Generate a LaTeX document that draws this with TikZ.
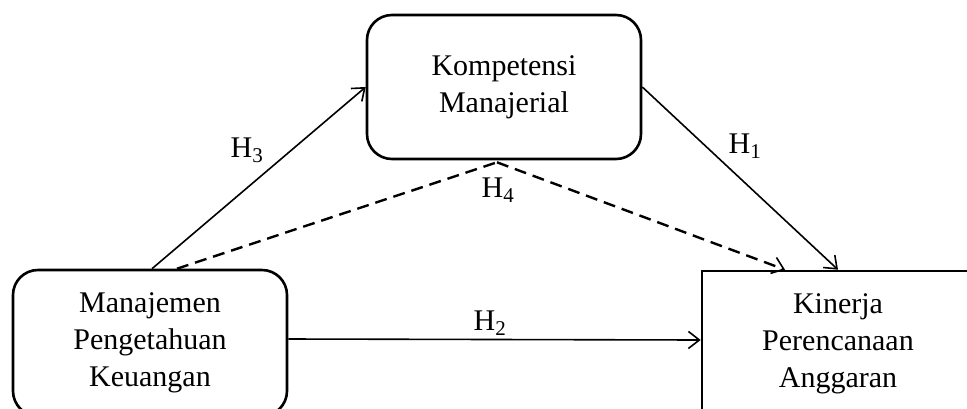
\documentclass[tikz,border=0pt]{standalone}
\usepackage{fontspec}
\setmainfont{Liberation Serif}
\usetikzlibrary{arrows.meta}
\begin{document}
\begin{tikzpicture}[x=1pt,y=-1pt,
  box/.style={draw,line width=2.6pt,align=center,font=\fontsize{30}{37}\selectfont,inner sep=0pt},
  conn/.style={line width=1.6pt,-{Straight Barb[length=11pt,width=17pt,line width=1.6pt]}},
  dconn/.style={line width=2.4pt,dash pattern=on 12pt off 7pt},
  lbl/.style={font=\fontsize{30}{36}\selectfont,inner sep=0pt}]
\useasboundingbox (0,0) rectangle (967,408);
\node[box,rounded corners=25pt,minimum width=274pt,minimum height=144pt] (tb) at (504,87) {Kompetensi\\Manajerial};
\node[box,rounded corners=25pt,minimum width=274pt,minimum height=146pt] (lb) at (150,343) {Manajemen\\Pengetahuan\\Keuangan};
\node[box,minimum width=272pt,minimum height=146pt] (rb) at (838,344) {Kinerja\\Perencanaan\\Anggaran};
\coordinate (apex) at ([xshift=-7pt,yshift=-2pt]tb.south);
\draw[conn] ([xshift=2pt]lb.north) -- (tb.west);
\draw[conn] (tb.east) -- (rb.north);
\draw[conn] ([yshift=4pt]lb.east) -- ([yshift=4pt]rb.west);
\draw[dconn] ([xshift=27pt]lb.north) -- (apex);
\draw[dconn,-{Straight Barb[length=11pt,width=17pt,line width=1.6pt]}] (apex) -- ([xshift=-53pt]rb.north);
\node[lbl] (h3) at (247,150) {H\textsubscript{3}};
\node[lbl] (h1) at (745,146) {H\textsubscript{1}};
\node[lbl] (h4) at (498,190) {H\textsubscript{4}};
\node[lbl] (h2) at (490,323) {H\textsubscript{2}};
\end{tikzpicture}
\end{document}
